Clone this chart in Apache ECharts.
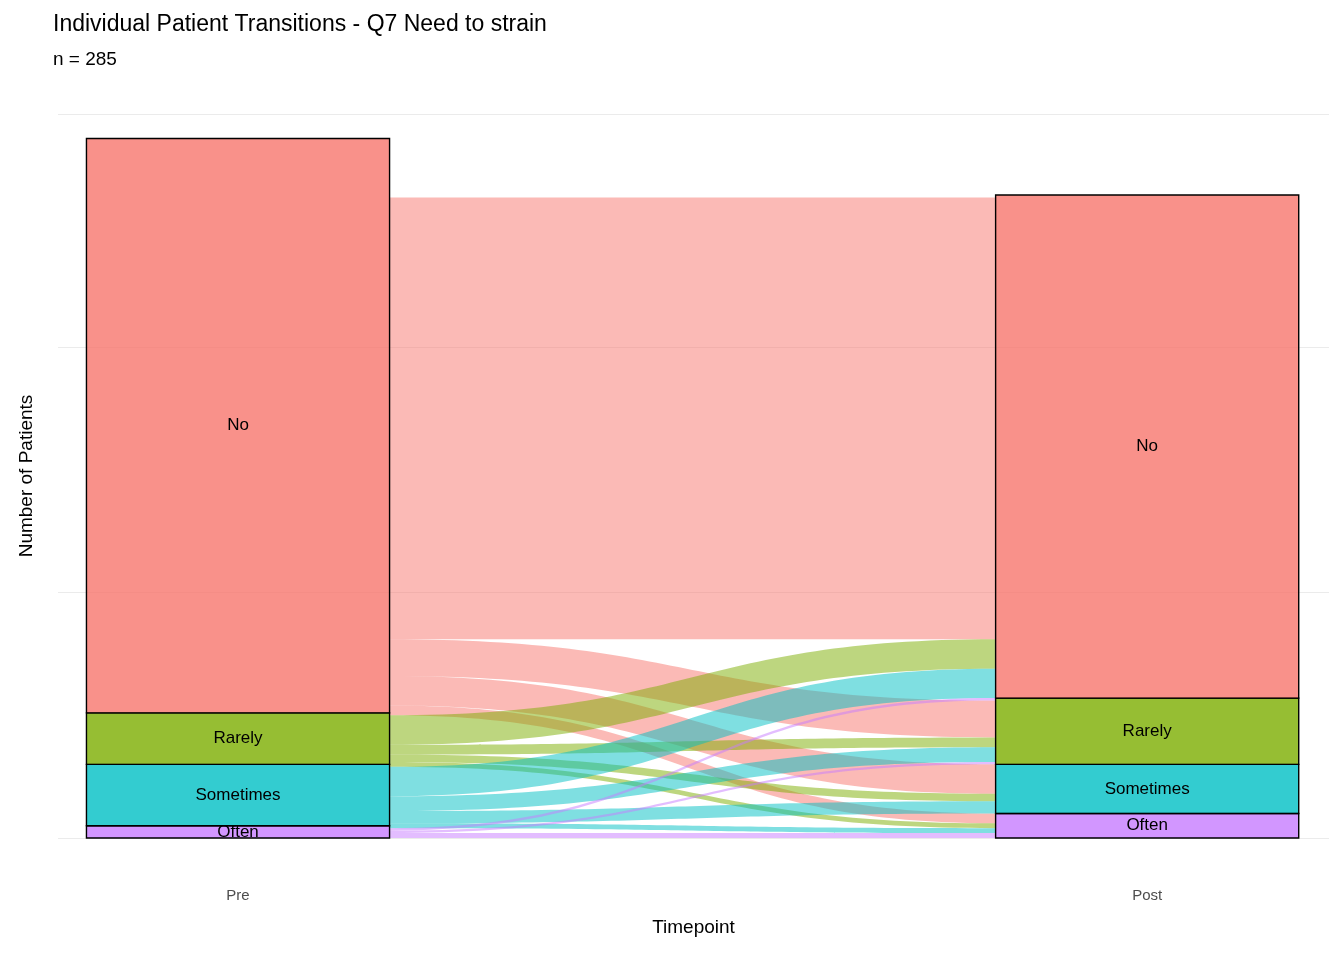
<!DOCTYPE html>
<html><head><meta charset="utf-8">
<script src="https://cdn.jsdelivr.net/npm/echarts@6/dist/echarts.min.js"></script>
<style>html,body{margin:0;background:#fff}#c{width:1344px;height:960px}</style>
</head><body><div id="c"></div>
<script>
// responses, bottom-to-top stacking order is reversed (No on top)
const responses = ['No', 'Rarely', 'Sometimes', 'Often'];
const colors = ['#F8766D', '#7CAE00', '#00BFC4', '#C77CFF'];
const timepoints = ['Pre', 'Post'];
const preCounts = [234, 21, 25, 5];
const postCounts = [205, 27, 20, 10];
// flows[from][to], from = Pre response, to = Post response
const flows = [
  [180, 15, 12, 4],
  [12, 4, 3, 2],
  [12, 6, 5, 2],
  [1, 1, 0, 2]
];

const half = 0.1667;
const order = [3, 2, 1, 0]; // bottom to top

function strata(counts, x) {
  let base = 0;
  const out = [];
  order.forEach((i) => {
    out.push([x, base, base + counts[i], i]);
    base += counts[i];
  });
  return out;
}

// left positions: stacked by source, then destination
const leftPos = {}, rightPos = {};
let b = 0;
order.forEach((s) => order.forEach((d) => { leftPos[s + '_' + d] = [b, b + flows[s][d]]; b += flows[s][d]; }));
b = 0;
order.forEach((d) => order.forEach((s) => { rightPos[s + '_' + d] = [b, b + flows[s][d]]; b += flows[s][d]; }));
const flowData = [];
[0, 1, 2, 3].forEach((s) => [0, 1, 2, 3].forEach((d) => {
  if (!flows[s][d]) return;
  const k = s + '_' + d;
  flowData.push([s, d, leftPos[k][0], leftPos[k][1], rightPos[k][0], rightPos[k][1]]);
}));

const chart = echarts.init(document.getElementById('c'));
chart.setOption({
  animation: false,
  title: {
    text: 'Individual Patient Transitions - Q7 Need to strain',
    subtext: 'n = 285',
    left: 48, top: 8,
    textStyle: { fontFamily: 'Arial, Liberation Sans', fontSize: 23, fontWeight: 'normal', color: '#000' },
    subtextStyle: { fontFamily: 'Arial, Liberation Sans', fontSize: 19, color: '#000' },
    itemGap: 14
  },
  grid: { left: 58, right: 15, top: 114, bottom: 122 },
  xAxis: {
    type: 'value', min: -0.198, max: 1.2,
    name: 'Timepoint', nameLocation: 'middle', nameGap: 80,
    nameTextStyle: { fontFamily: 'Arial, Liberation Sans', fontSize: 19, color: '#000' },
    axisLine: { show: false }, axisTick: { show: false }, splitLine: { show: false },
    axisLabel: {
      customValues: [0, 1], margin: 50,
      formatter: (v) => timepoints[Math.round(v)],
      fontFamily: 'Arial, Liberation Sans', fontSize: 15, color: '#4d4d4d'
    }
  },
  yAxis: {
    type: 'value', min: 0, max: 295, interval: 100,
    name: 'Number of Patients', nameLocation: 'middle', nameGap: 22,
    nameTextStyle: { fontFamily: 'Arial, Liberation Sans', fontSize: 19, color: '#000' },
    axisLine: { show: false }, axisTick: { show: false }, axisLabel: { show: false },
    splitLine: { lineStyle: { color: '#ebebeb', width: 1.2 } }
  },
  series: [
    {
      type: 'custom', silent: true, data: flowData,
      renderItem(params, api) {
        const s = api.value(0);
        const p0 = api.coord([half, api.value(3)]);
        const p1 = api.coord([1 - half, api.value(5)]);
        const p2 = api.coord([1 - half, api.value(4)]);
        const p3 = api.coord([half, api.value(2)]);
        const mx = (p0[0] + p1[0]) / 2;
        const d = `M${p0[0]},${p0[1]} C${mx},${p0[1]} ${mx},${p1[1]} ${p1[0]},${p1[1]} ` +
          `L${p2[0]},${p2[1]} C${mx},${p2[1]} ${mx},${p3[1]} ${p3[0]},${p3[1]} Z`;
        return { type: 'path', shape: { pathData: d }, style: { fill: colors[s], opacity: 0.5 } };
      }
    },
    {
      type: 'custom', silent: true,
      data: strata(preCounts, 0).concat(strata(postCounts, 1)),
      renderItem(params, api) {
        const x = api.value(0);
        const a = api.coord([x - half, api.value(2)]);
        const c = api.coord([x + half, api.value(1)]);
        const i = api.value(3);
        return {
          type: 'group', children: [
            { type: 'rect', shape: { x: a[0], y: a[1], width: c[0] - a[0], height: c[1] - a[1] },
              style: { fill: colors[i], opacity: 0.8 } },
            { type: 'rect', shape: { x: a[0], y: a[1], width: c[0] - a[0], height: c[1] - a[1] },
              style: { fill: 'none', stroke: '#000', lineWidth: 1.4 } },
            { type: 'text', x: (a[0] + c[0]) / 2, y: (a[1] + c[1]) / 2,
              style: { text: responses[i], fill: '#000', fontSize: 17, fontFamily: 'Arial, Liberation Sans',
                align: 'center', verticalAlign: 'middle' } }
          ]
        };
      }
    }
  ]
});
</script></body></html>
